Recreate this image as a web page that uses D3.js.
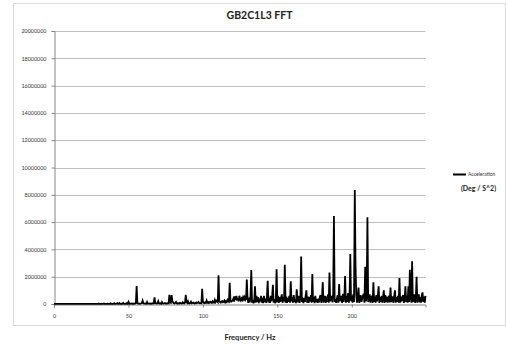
<!DOCTYPE html>
<html>
<head>
<meta charset="utf-8">
<script src="https://cdn.jsdelivr.net/npm/d3@7"></script>
<style>
  body { margin: 0; background: #fff; }
  svg { display: block; font-family: Lato, "Open Sans", sans-serif; }
</style>
</head>
<body>
<svg id="chart" width="506" height="348"></svg>
<script>
// FFT bin width in Hz (one amplitude per bin, starting at 0 Hz)
const binWidth = 0.5;

// amplitudes in thousands of Deg/S^2, one row per 10 Hz
const lowBand = [
  10,6,4,3,5,4,3,2,4,3,2,3,4,2,3,2,3,4,2,3,
  3,2,4,3,2,3,5,3,2,4,3,2,3,4,2,3,2,4,3,2,
  3,4,2,3,5,3,2,4,6,3,4,2,5,3,4,6,3,5,8,4,
  30,12,8,10,6,9,14,40,10,8,12,9,25,11,8,10,45,12,9,14,
  10,55,12,9,18,60,14,10,70,15,12,20,11,80,18,12,25,14,60,20
];
const midBand = [
  160,40,20,25,40,20,30,18,35,25,70,1320,60,30,25,20,35,40,60,240,
  60,30,25,40,20,150,30,25,35,40,20,30,60,25,35,490,80,40,30,50,
  200,40,30,60,25,140,40,30,50,70,35,40,30,60,45,680,120,90,650,200,
  120,60,40,80,150,50,40,60,30,90,70,40,50,130,60,40,100,680,150,80,
  200,60,40,80,170,50,70,100,60,40,80,120,60,90,150,70,50,80,60,1120,
  180,90,60,120,80,250,100,70,140,90,160,110,80,200,120,90,300,150,250,180,
  120,2100,200,150,100,180,220,130,160,250,120,190,140,300,200,160,1560,280,180,220,
  250,400,180,550,300,600,250,450,200,600,350,250,400,300,500,350,500,300,400,1800
];
const highBand = [
  350,80,300,120,600,2490,100,300,60,250,1300,90,600,150,500,70,400,200,600,100,
  450,60,600,150,400,90,500,1700,120,450,80,600,200,500,1400,100,350,60,300,2540,
  120,600,80,500,150,450,700,90,500,200,2880,100,550,80,450,150,600,100,1660,200,
  500,90,650,150,350,60,1080,300,120,600,80,500,3470,150,300,70,450,150,600,1000,
  100,550,80,500,200,650,100,2200,150,500,60,600,150,350,80,400,120,500,650,90,
  500,1600,100,350,600,80,550,150,700,100,2300,200,400,600,120,750,6450,150,350,80,
  400,650,100,1460,200,350,600,80,750,150,500,2050,100,600,150,800,100,550,3660,200,
  600,100,700,150,8350,2880,600,100,550,1200,80,350,650,150,400,600,750,100,2730,200,
  600,6350,150,350,700,100,400,600,80,1600,150,550,100,650,200,600,1300,80,500,150,
  600,100,500,1000,80,650,150,550,100,350,600,120,1200,150,350,550,90,600,1000,100,
  500,150,600,90,1900,100,550,200,500,650,80,350,1300,150,600,100,1300,150,2500,550,
  100,3130,150,350,700,90,400,2000,100,550,700,120,500,100,650,850,150,550,100,600
];

const yTicks = [0,2000000,4000000,6000000,8000000,10000000,12000000,14000000,16000000,18000000,20000000];
const xTicks = [0,50,100,150,200];

const accel = lowBand.concat(midBand, highBand).map(function (v, i) {
  return { f: i * binWidth, a: v * 1000 };
});

const svg = d3.select("#chart");

// chart area border
svg.append("rect")
  .attr("x", 13.5).attr("y", 3.5)
  .attr("width", 492).attr("height", 322)
  .attr("fill", "#fff")
  .attr("stroke", "#d9d9d9");

const x = d3.scaleLinear().domain([0, 249.5]).range([54, 425.5]);
const y = d3.scaleLinear().domain([0, 20000000]).range([304, 31]);

// horizontal gridlines
svg.append("g")
  .selectAll("line")
  .data(yTicks.slice(1))
  .enter()
  .append("line")
  .attr("x1", x(0)).attr("x2", x(249.5))
  .attr("y1", function (d) { return Math.round(y(d)) + 0.5; })
  .attr("y2", function (d) { return Math.round(y(d)) + 0.5; })
  .attr("stroke", "#bebebe");

// y axis
const yAxis = svg.append("g")
  .attr("transform", "translate(54.5,0)")
  .call(d3.axisLeft(y).tickValues(yTicks).tickSize(3).tickPadding(5).tickFormat(d3.format("d")));
yAxis.select(".domain").attr("stroke", "#868686");
yAxis.selectAll(".tick line").attr("stroke", "#868686");
yAxis.selectAll("text").attr("font-size", 5.4).attr("fill", "#333").attr("font-family", "Lato, sans-serif");

// x axis
const xAxis = svg.append("g")
  .attr("transform", "translate(0,304.5)")
  .call(d3.axisBottom(x).tickValues(xTicks).tickSize(3).tickPadding(7).tickFormat(d3.format("d")));
xAxis.select(".domain").attr("stroke", "#868686");
xAxis.selectAll(".tick line").attr("stroke", "#868686");
xAxis.selectAll("text").attr("font-size", 5.4).attr("fill", "#333").attr("font-family", "Lato, sans-serif");

// spectrum line
svg.append("path")
  .datum(accel)
  .attr("fill", "none")
  .attr("stroke", "#000")
  .attr("stroke-width", 1.8)
  .attr("stroke-linejoin", "miter")
  .attr("d", d3.line()
    .x(function (d) { return x(d.f); })
    .y(function (d) { return y(d.a); }));

// title
svg.append("text")
  .attr("x", 259.5).attr("y", 19)
  .attr("text-anchor", "middle")
  .attr("font-size", 10.5)
  .attr("font-weight", "bold")
  .attr("fill", "#222")
  .text("GB2C1L3 FFT");

// x axis title
svg.append("text")
  .attr("x", 250).attr("y", 340)
  .attr("text-anchor", "middle")
  .attr("font-size", 7.5)
  .attr("font-weight", "bold")
  .attr("fill", "#222")
  .text("Frequency / Hz");

// legend
svg.append("line")
  .attr("x1", 453).attr("x2", 466)
  .attr("y1", 174.5).attr("y2", 174.5)
  .attr("stroke", "#000")
  .attr("stroke-width", 2);
svg.append("text")
  .attr("x", 468).attr("y", 176.3)
  .attr("font-size", 5)
  .attr("fill", "#333")
  .text("Acceleration");
svg.append("text")
  .attr("x", 478.5).attr("y", 191)
  .attr("text-anchor", "middle")
  .attr("font-size", 7)
  .attr("font-weight", "bold")
  .attr("fill", "#222")
  .text("(Deg / S^2)");
</script>
</body>
</html>
